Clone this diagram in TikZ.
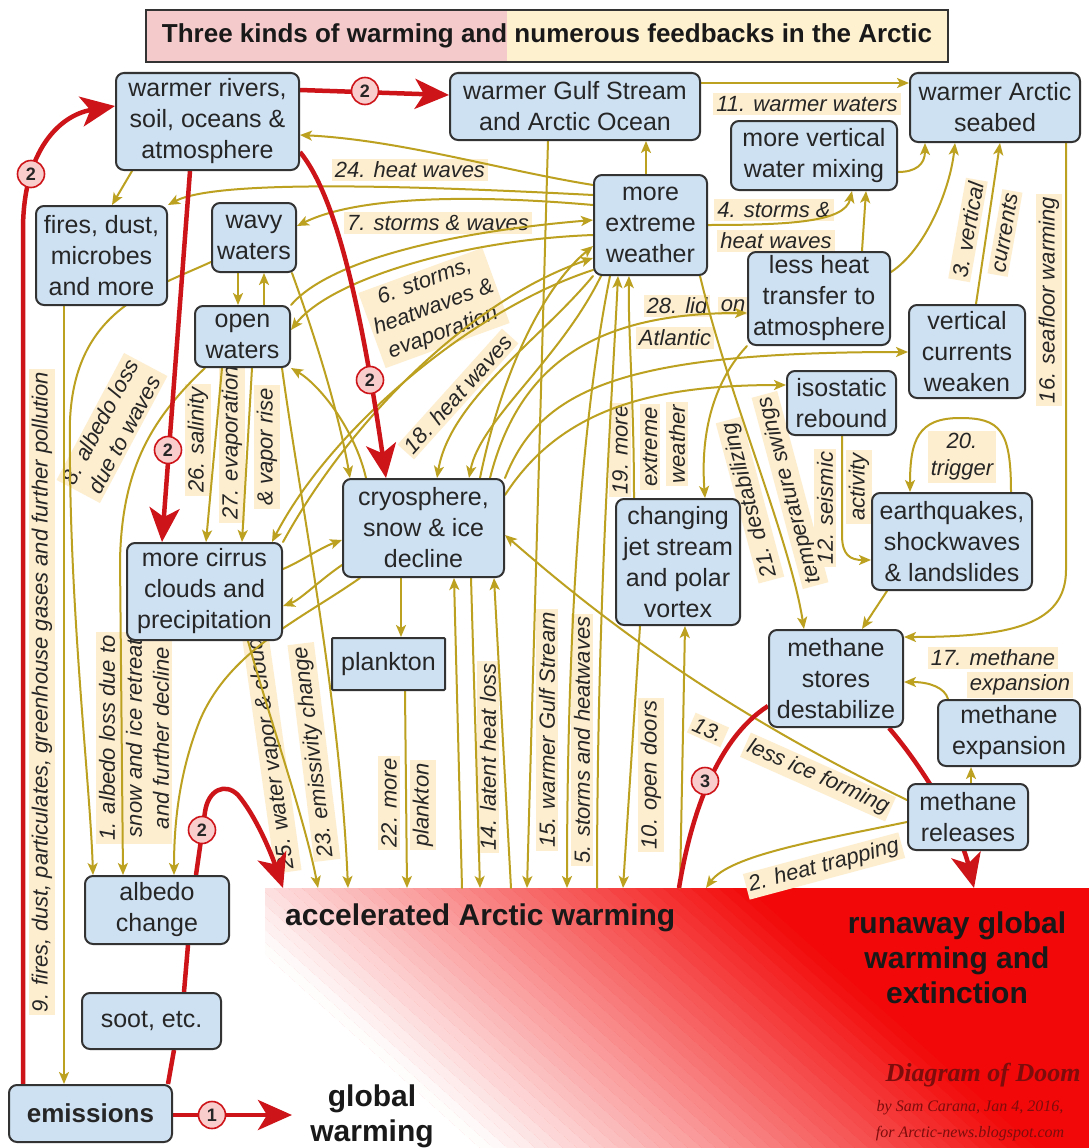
\documentclass[tikz,border=0pt]{standalone}
\usepackage{fontspec}
\setmainfont{Liberation Sans}
\newfontfamily\doomfont{Liberation Serif}
\usetikzlibrary{arrows.meta}
\definecolor{boxblue}{RGB}{206,225,243}
\definecolor{olv}{RGB}{188,160,32}
\definecolor{bandc}{RGB}{253,238,208}
\definecolor{myred}{RGB}{242,8,8}
\definecolor{arrred}{RGB}{205,20,25}
\definecolor{pinkc}{RGB}{250,205,205}
\definecolor{titlepink}{RGB}{244,202,202}
\definecolor{titleyel}{RGB}{253,241,208}
\definecolor{doomred}{RGB}{125,12,12}
\pgfdeclarelayer{back}\pgfdeclarelayer{bands}\pgfdeclarelayer{lines}
\pgfsetlayers{back,bands,lines,main}
\begin{document}
\begin{tikzpicture}[x=1pt,y=-1pt,
 nbox/.style={draw=black!80, line width=2pt, rounded corners=8pt, fill=boxblue, align=center, inner sep=1pt, text=black!85, font=\fontsize{25}{31}\selectfont},
 lbl/.style={fill=bandc, inner sep=3pt, align=center, text=black!85, font=\fontsize{22}{27}\selectfont\itshape},
 oline/.style={draw=olv, line width=2pt, line cap=round},
 oarr/.style={oline, -{Stealth[length=12pt,width=10pt,inset=3pt]}},
 rline/.style={draw=arrred, line width=4.5pt},
 rarr/.style={rline, -{Stealth[length=34pt,width=30pt,inset=9pt]}},
 numc/.style={circle, draw=arrred, line width=1.6pt, fill=pinkc, inner sep=0pt, minimum size=27pt, font=\fontsize{18}{18}\selectfont\bfseries, text=black!85},
 bigt/.style={font=\fontsize{30}{35}\selectfont\bfseries, text=black!90, align=center, inner sep=0pt},
]
\useasboundingbox (0,0) rectangle (1089,1148);

% ---------- boxes ----------
\node[nbox, minimum width=183pt, minimum height=97pt] (rivers) at (207.5,121.5) {warmer rivers,\\soil, oceans \&\\atmosphere};
\node[nbox, minimum width=250pt, minimum height=67pt] (gulf) at (575,106.5) {warmer Gulf Stream\\and Arctic Ocean};
\node[nbox, minimum width=170pt, minimum height=69pt] (seabed) at (995,107.5) {warmer Arctic\\seabed};
\node[nbox, minimum width=166pt, minimum height=69pt] (mixing) at (814,155.5) {more vertical\\water mixing};
\node[nbox, minimum width=113pt, minimum height=100pt] (extreme) at (650.5,225) {more\\extreme\\weather};
\node[nbox, minimum width=142pt, minimum height=93pt] (lessheat) at (819,298.5) {less heat\\transfer to\\atmosphere};
\node[nbox, minimum width=116pt, minimum height=93pt] (vc) at (967,351.5) {vertical\\currents\\weaken};
\node[nbox, minimum width=109pt, minimum height=64pt] (iso) at (841.5,403) {isostatic\\rebound};
\node[nbox, minimum width=131pt, minimum height=99pt] (fires) at (101.5,255.5) {fires, dust,\\microbes\\and more};
\node[nbox, minimum width=84pt, minimum height=69pt] (wavy) at (254,237.5) {wavy\\waters};
\node[nbox, minimum width=95pt, minimum height=61pt] (open) at (242.5,336.5) {open\\waters};
\node[nbox, minimum width=161pt, minimum height=98pt] (cryo) at (423.5,528) {cryosphere,\\snow \& ice\\decline};
\node[nbox, minimum width=155pt, minimum height=97pt] (cirrus) at (204.5,591.5) {more cirrus\\clouds and\\precipitation};
\node[nbox, rounded corners=1pt, minimum width=113pt, minimum height=52pt] (plankton) at (388.5,664) {plankton};
\node[nbox, minimum width=124pt, minimum height=126pt] (jet) at (678,562) {changing\\jet stream\\and polar\\vortex};
\node[nbox, minimum width=160pt, minimum height=97pt] (quake) at (952,541.5) {earthquakes,\\shockwaves\\\& landslides};
\node[nbox, minimum width=134pt, minimum height=97pt] (stores) at (836,678.5) {methane\\stores\\destabilize};
\node[nbox, minimum width=142pt, minimum height=66pt] (expansion) at (1009,733) {methane\\expansion};
\node[nbox, minimum width=120pt, minimum height=66pt] (releases) at (968,817) {methane\\releases};
\node[nbox, minimum width=144pt, minimum height=68pt] (albedo) at (157,910) {albedo\\change};
\node[nbox, minimum width=139pt, minimum height=56pt] (soot) at (151.5,1021) {soot, etc.};
\node[nbox, minimum width=163pt, minimum height=57pt, font=\fontsize{26}{31}\selectfont\bfseries] (emissions) at (90.5,1113.5) {emissions};

\node[inner sep=0pt, minimum width=824pt, minimum height=260pt, anchor=north west] (region) at (265,888) {};
\coordinate (gwtip) at (292,1115);

% ---------- title ----------
\fill[titlepink] (146,10) rectangle (507,62);
\fill[titleyel] (507,10) rectangle (948,62);
\draw[black!80, line width=2pt] (146,10) rectangle (948,62);
\node[font=\fontsize{26}{30}\selectfont\bfseries, text=black!90] (title) at (547,36) {Three kinds of warming and numerous feedbacks in the Arctic};

% ---------- big texts ----------
\node[bigt, anchor=west] (accel) at (285,918) {accelerated Arctic warming};
\node[bigt] (run) at (957,958) {runaway global\\warming and\\extinction};
\node[bigt] (gw) at (372,1116) {global\\warming};
\node[font=\doomfont\fontsize{26}{30}\selectfont\bfseries\itshape, text=doomred] (doom) at (983,1075) {Diagram of Doom};
\node[font=\doomfont\fontsize{16}{26}\selectfont\itshape, text=doomred, align=center] (byline) at (970,1121) {by Sam Carana, Jan 4, 2016,\\for Arctic-news.blogspot.com};

% ---------- background gradient ----------
\begin{pgfonlayer}{back}
\fill[white] (0,0) rectangle (1089,1148);
\begin{scope}
\clip (region.north west) rectangle (region.south east);
\fill[myred] (region.north west) rectangle (region.south east);
\fill[white] (265,954.5) -- (1089,1696.1) -- (1089,1800) -- (265,1800) -- cycle;
\foreach \k in {0,1,...,39} {
  \pgfmathsetmacro{\ya}{954.9-12.5*\k}
  \pgfmathsetmacro{\yb}{1696.5-12.5*\k}
  \pgfmathsetmacro{\yc}{1696.1-12.5*(\k+1)}
  \pgfmathsetmacro{\yd}{954.5-12.5*(\k+1)}
  \pgfmathtruncatemacro{\pc}{(\k+0.5)*2.5}
  \fill[myred!\pc!white] (265,\ya) -- (1089,\yb) -- (1089,\yc) -- (265,\yd) -- cycle;
}
\end{scope}
\end{pgfonlayer}

% ---------- labels ----------
\begin{pgfonlayer}{bands}
\node[lbl] (l11) at (807,104) {11. warmer waters};
\node[lbl] (l24) at (410,170) {24. heat waves};
\node[lbl] (l7) at (438,223) {7. storms \& waves};
\node[lbl, rotate=20] (l6) at (434,308) {6. storms,\\heatwaves \&\\evaporation};
\node[lbl, rotate=48] (l18) at (458,394) {18. heat waves};
\node[lbl] (l4a) at (774,210) {4. storms \&};
\node[lbl] (l4b) at (776,241) {heat waves};
\node[lbl] (l28a) at (677,306) {28. lid};
\node[lbl] (l28b) at (733,306) {on};
\node[lbl] (l28c) at (675,338) {Atlantic};
\node[lbl, rotate=80] (l3a) at (968,230) {3. vertical};
\node[lbl, rotate=80] (l3b) at (1005,233) {currents};
\node[lbl, rotate=90] (l16) at (1049,300) {16. seafloor warming};
\node[lbl, rotate=90] (l19a) at (620,450) {19. more};
\node[lbl, rotate=90] (l19b) at (650,447) {extreme};
\node[lbl, rotate=90] (l19c) at (677,444) {weather};
\node[lbl, rotate=105] (l21a) at (750,500) {21. destabilizing};
\node[lbl, rotate=105] (l21b) at (790,490) {temperature swings};
\node[lbl, rotate=90] (l12a) at (825,508) {12. seismic};
\node[lbl, rotate=90] (l12b) at (859,487) {activity};
\node[lbl] (l20) at (962,457) {20.\\trigger};
\node[lbl] (l17a) at (993,658) {17. methane};
\node[lbl] (l17b) at (1020,685) {expansion};
\node[lbl, rotate=-24] (l13a) at (708,730) {13.};
\node[lbl, rotate=-24] (l13b) at (818,777) {less ice forming};
\node[lbl, rotate=15] (l2) at (824,866) {2. heat trapping};
\node[lbl, rotate=90] (l10) at (651,775) {10. open doors};
\node[lbl, rotate=90] (l5) at (582,740) {5. storms and heatwaves};
\node[lbl, rotate=90] (l15) at (547,730) {15. warmer Gulf Stream};
\node[lbl, rotate=90] (l14) at (488,757) {14. latent heat loss};
\node[lbl, rotate=90] (l22a) at (389,803) {22. more};
\node[lbl, rotate=90] (l22b) at (423,805) {plankton};
\node[lbl, rotate=97] (l23) at (314,752) {23. emissivity change};
\node[lbl, rotate=98] (l25) at (271,748) {25. water vapor \& clouds};
\node[lbl, rotate=90] (l26) at (198,440) {26. salinity};
\node[lbl, rotate=90] (l27a) at (232,443) {27. evaporation};
\node[lbl, rotate=90] (l27b) at (267,447) {\& vapor rise};
\node[lbl, rotate=62] (l8) at (112,428) {8. albedo loss\\due to waves};
\node[lbl, rotate=90] (l1) at (134,738) {1. albedo loss due to\\snow and ice retreat\\and further decline};
\node[lbl, rotate=90] (l9) at (42,692) {9. fires, dust, particulates, greenhouse gases and further pollution};
\end{pgfonlayer}

% ---------- connectors ----------
\begin{pgfonlayer}{lines}
\draw[oarr] (gulf.east |- 0,83) -- (seabed.west |- 0,83);
\draw[oarr] (extreme.north -| 646,0) -- (gulf.south -| 646,0);
\draw[oarr] (extreme.west |- 0,185) .. controls (500,170) and (400,140) .. (rivers.east |- 0,135);
\draw[oarr] (extreme.west |- 0,195) .. controls (400,185) and (215,180) .. (fires.north east);
\draw[oarr] (extreme.west |- 0,205) .. controls (480,195) and (360,195) .. (wavy.east |- 0,226);
\draw[oarr] (open.north east) .. controls (330,260) and (450,232) .. (extreme.west |- 0,220);
\draw[oarr] (extreme.west |- 0,235) .. controls (460,240) and (330,280) .. (open.east |- 0,330);
\draw[oarr] (cirrus.north east) .. controls (350,420) and (470,300) .. (extreme.west |- 0,258);
\draw[oarr] (cryo.north -| 480,0) .. controls (500,380) and (540,290) .. (extreme.west |- 0,246);
\draw[oarr] (extreme.south west) .. controls (540,340) and (450,400) .. (cryo.north -| 437,0);
\draw[oarr] ([xshift=8pt]extreme.south west) .. controls (560,360) and (480,420) .. (cryo.north -| 469,0);
\draw[oarr] ([yshift=6pt]extreme.south west) .. controls (470,310) and (330,430) .. (cirrus.north -| 272,0);
\draw[oarr] (extreme.south -| 610,0) .. controls (585,400) and (567,600) .. (region.north -| 567,0);
\draw[oarr] (region.north -| 597,0) .. controls (597,600) and (612,400) .. (extreme.south -| 618,0);
\draw[oarr] (jet.north -| 634,0) .. controls (634,400) and (628,330) .. (extreme.south -| 629,0);
\draw[oarr] (lessheat.south west) .. controls (715,380) and (700,430) .. (jet.north -| 705,0);
\draw[oarr] (extreme.south -| 700,0) .. controls (730,400) and (790,540) .. (stores.north -| 804,0);
\draw[oarr] (extreme.east |- 0,225) .. controls (790,225) and (845,222) .. (mixing.south -| 852,0);
\draw[oarr] (mixing.east |- 0,172) .. controls (915,172) and (925,165) .. (seabed.south -| 925,0);
\draw[oarr] (lessheat.north -| 862,0) -- (mixing.south -| 866,0);
\draw[oarr] (lessheat.east |- 0,272) .. controls (925,250) and (950,190) .. (seabed.south -| 955,0);
\draw[oarr] (vc.north -| 976,0) -- (seabed.south -| 1000,0);
\draw[oarr] (seabed.south -| 1066,0) -- (1066,570) .. controls (1066,625) and (1010,637) .. (stores.east |- 0,637);
\draw[oarr] (cryo.north -| 490,0) .. controls (520,360) and (600,313) .. (lessheat.west |- 0,313);
\draw[oarr] (cryo.north east) .. controls (540,390) and (620,352) .. (vc.west |- 0,352);
\draw[oarr] (cryo.east |- 0,495) .. controls (560,410) and (650,385) .. (iso.west |- 0,385);
\draw[oarr] (iso.south -| 842,0) -- (842,535) .. controls (842,555) and (850,560) .. (quake.west |- 0,560);
\draw[oarr] (quake.north -| 1011,0) .. controls (1011,430) and (1000,418) .. (960,418) .. controls (918,418) and (910,440) .. (quake.north -| 910,0);
\draw[oarr] (quake.south -| 887,0) -- (stores.north -| 862,0);
\draw[oarr] (expansion.north -| 948,0) .. controls (945,688) and (930,682) .. (stores.east |- 0,682);
\draw[oarr] (releases.north -| 971,0) -- (expansion.south -| 971,0);
\draw[oarr] (releases.west |- 0,822) .. controls (820,840) and (730,855) .. (region.north -| 706,0);
\draw[oarr] (releases.west |- 0,800) .. controls (700,700) and (580,600) .. (cryo.east |- 0,535);
\draw[oarr] (jet.south -| 640,0) -- (region.north -| 623,0);
\draw[oarr] (region.north -| 680,0) -- (jet.south -| 685,0);
\draw[oarr] (gulf.south -| 548,0) -- (region.north -| 527,0);
\draw[oarr] (cryo.south -| 471,0) -- (region.north -| 480,0);
\draw[oarr] (region.north -| 462,0) -- (cryo.south -| 454,0);
\draw[oarr] (region.north -| 511,0) -- (cryo.south -| 494,0);
\draw[oarr] (plankton.south -| 405,0) -- (region.north -| 407,0);
\draw[oarr] (cryo.south -| 401,0) -- (plankton.north -| 401,0);
\draw[oarr] (cirrus.east |- 0,569) .. controls (300,562) and (320,548) .. (cryo.west |- 0,540);
\draw[oarr] (cryo.west |- 0,565) .. controls (320,580) and (300,600) .. (cirrus.east |- 0,606);
\draw[oarr] (cirrus.south -| 248,0) .. controls (270,720) and (305,820) .. (region.north -| 318,0);
\draw[oarr] (open.south -| 282,0) .. controls (300,500) and (340,700) .. (region.north -| 348,0);
\draw[oarr] (open.south -| 222,0) -- (cirrus.north -| 206,0);
\draw[oarr] (open.south -| 252,0) -- (cirrus.north -| 242,0);
\draw[oarr] (wavy.south -| 238,0) -- (open.north -| 238,0);
\draw[oarr] (open.north -| 264,0) -- (wavy.south -| 264,0);
\draw[oarr] (wavy.west |- 0,262) .. controls (150,290) and (75,310) .. (70,420) .. controls (68,600) and (90,780) .. (albedo.north -| 93,0);
\draw[oarr] (open.south -| 205,0) .. controls (150,420) and (122,470) .. (120,560) -- (albedo.north -| 123,0);
\draw[oarr] (cryo.south -| 360,0) .. controls (300,620) and (230,650) .. (200,720) .. controls (180,770) and (174,820) .. (albedo.north -| 174,0);
\draw[oarr] (wavy.south -| 292,0) .. controls (320,350) and (340,420) .. (cryo.north -| 350,0);
\draw[oarr] (cryo.north -| 366,0) .. controls (355,430) and (320,385) .. (open.south east);
\draw[oarr] (rivers.south -| 132,0) -- (fires.north -| 112,0);
\draw[oarr] (fires.south -| 64,0) -- (emissions.north -| 64,0);
% red
\draw[rarr] (emissions.north -| 23,0) -- (23,230) .. controls (23,150) and (60,115) .. (rivers.west |- 0,106);
\draw[rarr] (rivers.east |- 0,90) -- (gulf.west |- 0,95);
\draw[rarr] (rivers.south -| 190,0) -- (cirrus.north -| 162,0);
\draw[rarr] (rivers.east |- 0,152) .. controls (335,195) and (360,300) .. (cryo.north -| 386,0);
\draw[rline] (emissions.north -| 168,0) -- (soot.south -| 174,0);
\draw[rline] (soot.north -| 184,0) -- (albedo.south -| 188,0);
\draw[rarr] (albedo.north -| 196,0) -- (205,812) .. controls (208,790) and (225,782) .. (238,795) .. controls (255,815) and (270,850) .. (region.north -| 283,0);
\draw[rarr] (emissions.east |- 0,1115) -- (gwtip);
\draw[rline] (region.north -| 679,0) .. controls (690,820) and (715,740) .. (stores.west |- 0,706);
\draw[rarr] (stores.south -| 889,0) .. controls (925,770) and (960,830) .. (region.north -| 974,0);
\end{pgfonlayer}

% ---------- number circles ----------
\node[numc] (c1) at (212,1115) {1};
\node[numc] (c2a) at (365,91) {2};
\node[numc] (c2b) at (31,174) {2};
\node[numc] (c2c) at (168,450) {2};
\node[numc] (c2d) at (370,380) {2};
\node[numc] (c2e) at (202,830) {2};
\node[numc] (c3) at (705,781) {3};
\end{tikzpicture}
\end{document}
